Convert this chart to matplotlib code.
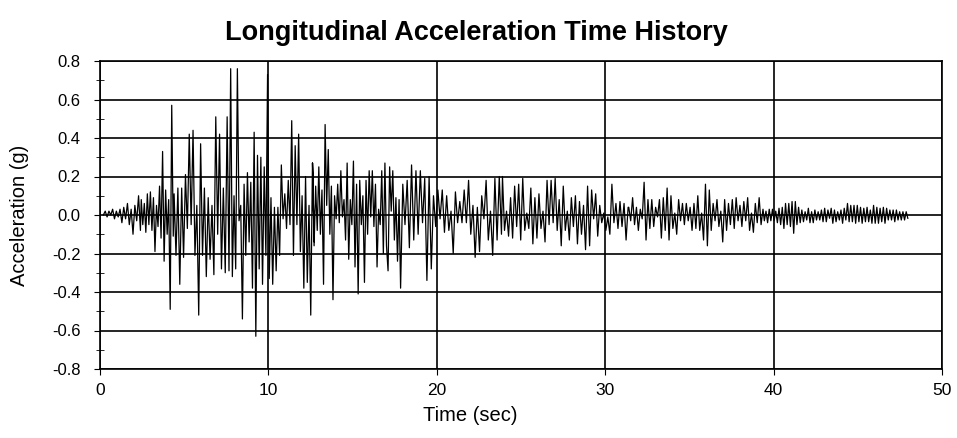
import numpy as np
import matplotlib
matplotlib.use("Agg")
import matplotlib.pyplot as plt
from matplotlib.ticker import MultipleLocator, FormatStrFormatter

plt.rcParams['font.family'] = ['Liberation Sans', 'DejaVu Sans']

# peak values (g), grouped in time windows (sec)
windows = [(0.2, 2.4), (2.45, 4.35), (4.4, 7.55), (7.66, 9.95), (10.05, 12.72),
           (12.62, 17.76), (17.85, 23.84), (23.9, 31.36), (31.4, 39.37), (39.45, 47.97)]

acc_0 = [0.0, 0.02, -0.01, 0.02, 0.0, 0.03, -0.02, 0.02, -0.01, 0.03, -0.04,
         0.04, -0.02, 0.06, -0.05, 0.03, -0.10, 0.05, -0.03, 0.10, -0.08]
acc_1 = [0.08, -0.05, 0.06, -0.09, 0.11, -0.05, 0.12, -0.08, 0.09, -0.19, 0.05,
         -0.06, 0.15, -0.12, 0.33, -0.24, 0.13, -0.10, 0.08, -0.49, 0.57, -0.11]
acc_2 = [0.11, -0.21, 0.14, -0.36, 0.14, -0.22, 0.21, -0.07, 0.42, -0.05, 0.44,
         -0.21, 0.05, -0.52, 0.37, -0.21, 0.14, -0.32, 0.09, -0.23, 0.05, -0.31,
         0.51, -0.10, 0.42, -0.28, 0.14, -0.30, 0.51]
acc_3 = [-0.29, 0.76, -0.32, 0.10, -0.28, 0.76, -0.03, 0.05, -0.54, 0.16, -0.21,
         0.22, -0.14, 0.17, -0.38, 0.43, -0.63, 0.31, -0.28, 0.30, -0.36, 0.25,
         -0.21, 0.73]
acc_4 = [-0.33, 0.09, -0.36, 0.04, -0.29, 0.04, -0.21, 0.26, -0.02, 0.11, -0.07,
         0.18, -0.05, 0.49, -0.21, 0.36, -0.05, 0.42, -0.19, 0.10, -0.38, 0.20,
         -0.35, 0.05, -0.52, 0.27, -0.14]
acc_5 = [0.27, -0.16, 0.15, -0.08, 0.25, -0.10, 0.13, -0.36, 0.47, 0.05, 0.34,
         -0.10, 0.15, -0.44, 0.10, -0.02, 0.16, -0.04, 0.23, -0.01, 0.08, -0.13,
         0.27, -0.23, 0.08, -0.05, 0.28, -0.27, 0.16, -0.41, 0.18, -0.05, 0.10,
         -0.35, 0.18, -0.10, 0.23, -0.01, 0.23, -0.06, 0.16, -0.27, 0.03, -0.05,
         0.23, -0.20, 0.27, -0.16, -0.29, 0.25, 0.02, 0.23, -0.13, 0.09, -0.24, 0.08]
acc_6 = [-0.38, 0.16, -0.05, 0.18, -0.17, 0.26, -0.13, 0.23, -0.10, 0.23, -0.04,
         0.19, -0.34, 0.20, -0.28, 0.10, -0.06, 0.13, -0.02, 0.13, -0.09, 0.10,
         -0.08, 0.02, -0.20, 0.12, -0.04, 0.07, -0.04, 0.13, -0.04, 0.18, -0.10,
         0.05, -0.22, 0.04, -0.19, 0.10, -0.02, 0.18, -0.13, 0.02, -0.21, 0.19,
         -0.13, 0.20, -0.10]
acc_7 = [0.20, -0.08, 0.02, -0.11, 0.09, -0.12, 0.15, -0.06, 0.16, -0.13, 0.19,
         -0.08, 0.01, -0.07, 0.14, -0.15, 0.09, -0.12, 0.11, -0.07, 0.02, -0.14,
         0.18, -0.05, 0.18, -0.04, 0.19, -0.08, 0.08, -0.16, 0.15, -0.08, 0.02,
         -0.13, 0.09, -0.06, 0.10, -0.15, 0.07, -0.10, 0.05, -0.18, 0.15, -0.16,
         0.13, -0.02, 0.11, -0.11, 0.05, -0.04, 0.01, -0.08, -0.01, -0.10, 0.16,
         -0.04, 0.06, -0.07, 0.07, -0.06, 0.06, -0.13, 0.04]
acc_8 = [0.04, -0.03, 0.09, -0.05, 0.04, -0.08, 0.03, -0.02, 0.17, -0.13, 0.08,
         -0.07, 0.08, -0.06, 0.04, -0.01, 0.08, -0.12, 0.09, -0.08, 0.14, -0.13,
         0.10, -0.07, 0.01, -0.10, 0.08, -0.03, 0.06, -0.05, 0.06, -0.03, 0.04,
         -0.08, 0.06, -0.07, 0.10, -0.08, 0.01, -0.13, 0.16, -0.16, 0.13, -0.08,
         0.06, -0.03, 0.08, -0.06, 0.02, -0.14, 0.08, -0.08, 0.06, -0.05, 0.08,
         -0.07, 0.09, -0.03, 0.05, -0.06, 0.07, -0.03, 0.09, -0.08, 0.01, -0.09,
         0.06, -0.04, 0.09, -0.05, 0.03]
acc_9 = [-0.03, 0.02, -0.04, 0.03, -0.03, 0.03, -0.03, 0.02, -0.04, 0.035, -0.05,
         0.04, -0.07, 0.06, -0.05, 0.06, -0.06, 0.07, -0.095, 0.07, -0.05, 0.04,
         -0.04, 0.026, -0.035, 0.017, -0.026, 0.035, -0.04, 0.017, -0.04, 0.026,
         -0.026, 0.017, -0.026, 0.026, -0.035, 0.035, -0.035, 0.026, -0.017, 0.035,
         -0.043, 0.026, -0.035, 0.017, -0.026, 0.026, -0.043, 0.035, -0.026, 0.06,
         -0.035, 0.05, -0.035, 0.05, -0.043, 0.05, -0.035, 0.04, -0.043, 0.035,
         -0.035, 0.04, -0.035, 0.026, -0.043, 0.05, -0.043, 0.04, -0.043, 0.035,
         -0.035, 0.04, -0.043, 0.035, -0.026, 0.026, -0.026, 0.026, -0.035, 0.026,
         -0.026, 0.017, -0.026, 0.017, -0.026, 0.017, -0.017]

segments = [acc_0, acc_1, acc_2, acc_3, acc_4, acc_5, acc_6, acc_7, acc_8, acc_9]

t = np.concatenate([np.linspace(a, b, len(v)) for (a, b), v in zip(windows, segments)])
acc = np.concatenate(segments)

fig = plt.figure(figsize=(9.57, 4.38), dpi=100)
ax = fig.add_axes([100 / 957, 69 / 438, 842 / 957, 308 / 438])

ax.plot(t, acc, color="black", lw=0.9, zorder=3)

ax.set_xlim(0, 50)
ax.set_ylim(-0.8, 0.8)
ax.xaxis.set_major_locator(MultipleLocator(10))
ax.yaxis.set_major_locator(MultipleLocator(0.2))
ax.yaxis.set_minor_locator(MultipleLocator(0.1))
ax.yaxis.set_major_formatter(FormatStrFormatter("%.1f"))
ax.grid(True, which="major", color="black", lw=1.2)
ax.tick_params(axis="x", which="major", direction="out", length=4, labelsize=12.5, pad=6)
ax.tick_params(axis="y", which="major", direction="out", length=4, labelsize=12, pad=10)
ax.tick_params(axis="y", which="minor", direction="inout", length=6)
for s in ax.spines.values():
    s.set_linewidth(1.2)

ax.set_xlabel("Time (sec)", fontsize=14.5)
ax.set_ylabel("Acceleration (g)", fontsize=14.5)
ax.xaxis.set_label_coords(0.44, -0.12)
ax.yaxis.set_label_coords(-0.084, 0.5)
fig.text(476 / 957, 1 - 33 / 438, "Longitudinal Acceleration Time History",
         fontsize=19.5, fontweight="bold", ha="center", va="center")

fig.savefig("out.png", dpi=100)
